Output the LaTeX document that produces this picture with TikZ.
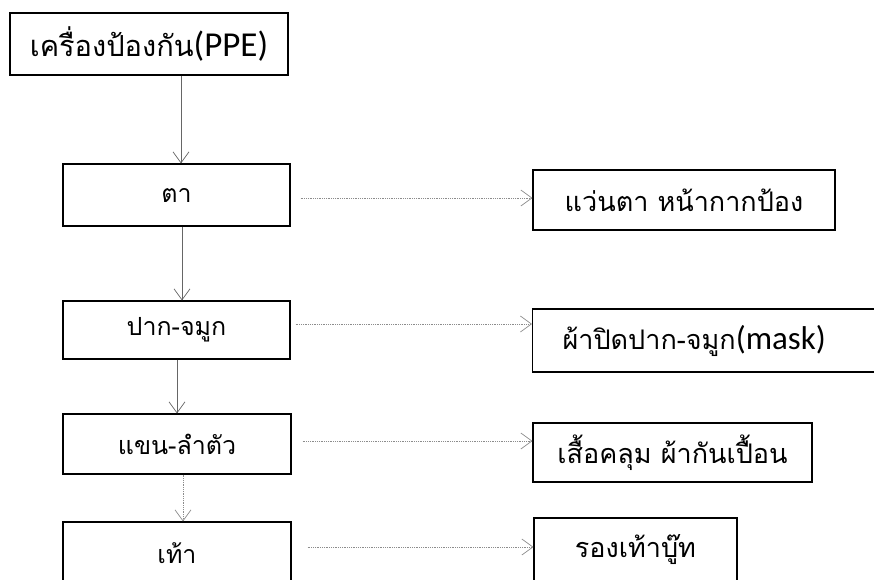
\documentclass[tikz,border=0pt]{standalone}
\usepackage{fontspec}
\newfontfamily\thaifont[Script=Thai]{Loma}
\newfontfamily\latinfont{Carlito}
\usetikzlibrary{arrows.meta}
\begin{document}
\begin{tikzpicture}[x=1pt,y=-1pt,
  box/.style={draw=black,line width=1.1pt,inner sep=0pt,font=\thaifont},
  lbox/.style={box,font=\thaifont\fontsize{25}{28}\selectfont},
  rbox/.style={box,font=\thaifont\fontsize{27}{30}\selectfont},
  tip/.style={-{Straight Barb[length=11pt,width=16pt,line width=0.7pt]}},
  varrow/.style={tip,draw=black!60,line width=0.8pt},
  harrow/.style={tip,draw=black!45,line width=0.8pt,densely dotted}]
\useasboundingbox (0,0) rectangle (874,579);
\node[box,minimum width=278pt,minimum height=62pt,font=\thaifont\fontsize{29}{31}\selectfont] (ppe) at (149,44) {เครื่องป้องกัน{\latinfont\fontsize{35}{37}\selectfont(PPE)}};
\node[lbox,minimum width=227pt,minimum height=62pt] (eye) at (176.5,195) {ตา};
\node[lbox,minimum width=227pt,minimum height=58pt] (mouth) at (176.5,330) {ปาก-จมูก};
\node[lbox,minimum width=228pt,minimum height=60pt] (arm) at (177,444) {แขน-ลำตัว};
\node[lbox,minimum width=228pt,minimum height=62pt] (foot) at (177,553) {เท้า};
\node[rbox,minimum width=302pt,minimum height=60pt] (r1) at (684,200) {แว่นตา หน้ากากป้อง};
\node[rbox,minimum width=348pt,minimum height=63pt,anchor=west] (r2) at (532,340.5) {\makebox[348pt][l]{\hspace{30pt}ผ้าปิดปาก-จมูก{\latinfont\fontsize{33}{35}\selectfont(mask)}}};
\node[rbox,minimum width=279pt,minimum height=59pt] (r3) at (672.5,452.5) {เสื้อคลุม ผ้ากันเปื้อน};
\node[rbox,minimum width=203pt,minimum height=64pt] (r4) at (635.5,550) {รองเท้าบู๊ท};
% vertical connectors
\draw[varrow] ([xshift=32pt]ppe.south) -- ([xshift=32pt]ppe.south |- eye.north);
\draw[varrow] ([xshift=5.5pt]eye.south) -- ([xshift=5.5pt]eye.south |- mouth.north);
\draw[varrow] ([xshift=0.5pt]mouth.south) -- ([xshift=0.5pt]mouth.south |- arm.north);
\draw[varrow,densely dotted,draw=black!45] ([xshift=6pt]arm.south) -- ([xshift=6pt]arm.south |- foot.north);
% horizontal connectors
\draw[harrow] ([xshift=10pt,yshift=-3pt]eye.east) -- ([yshift=-3pt]eye.east -| r1.west);
\draw[harrow] ([xshift=5pt,yshift=6pt]mouth.east) -- ([yshift=6pt]mouth.east -| r2.west);
\draw[harrow] ([xshift=11pt,yshift=3pt]arm.east) -- ([yshift=3pt]arm.east -| r3.west);
\draw[harrow] ([xshift=16pt,yshift=6pt]foot.east) -- ([yshift=6pt]foot.east -| r4.west);
\end{tikzpicture}
\end{document}
